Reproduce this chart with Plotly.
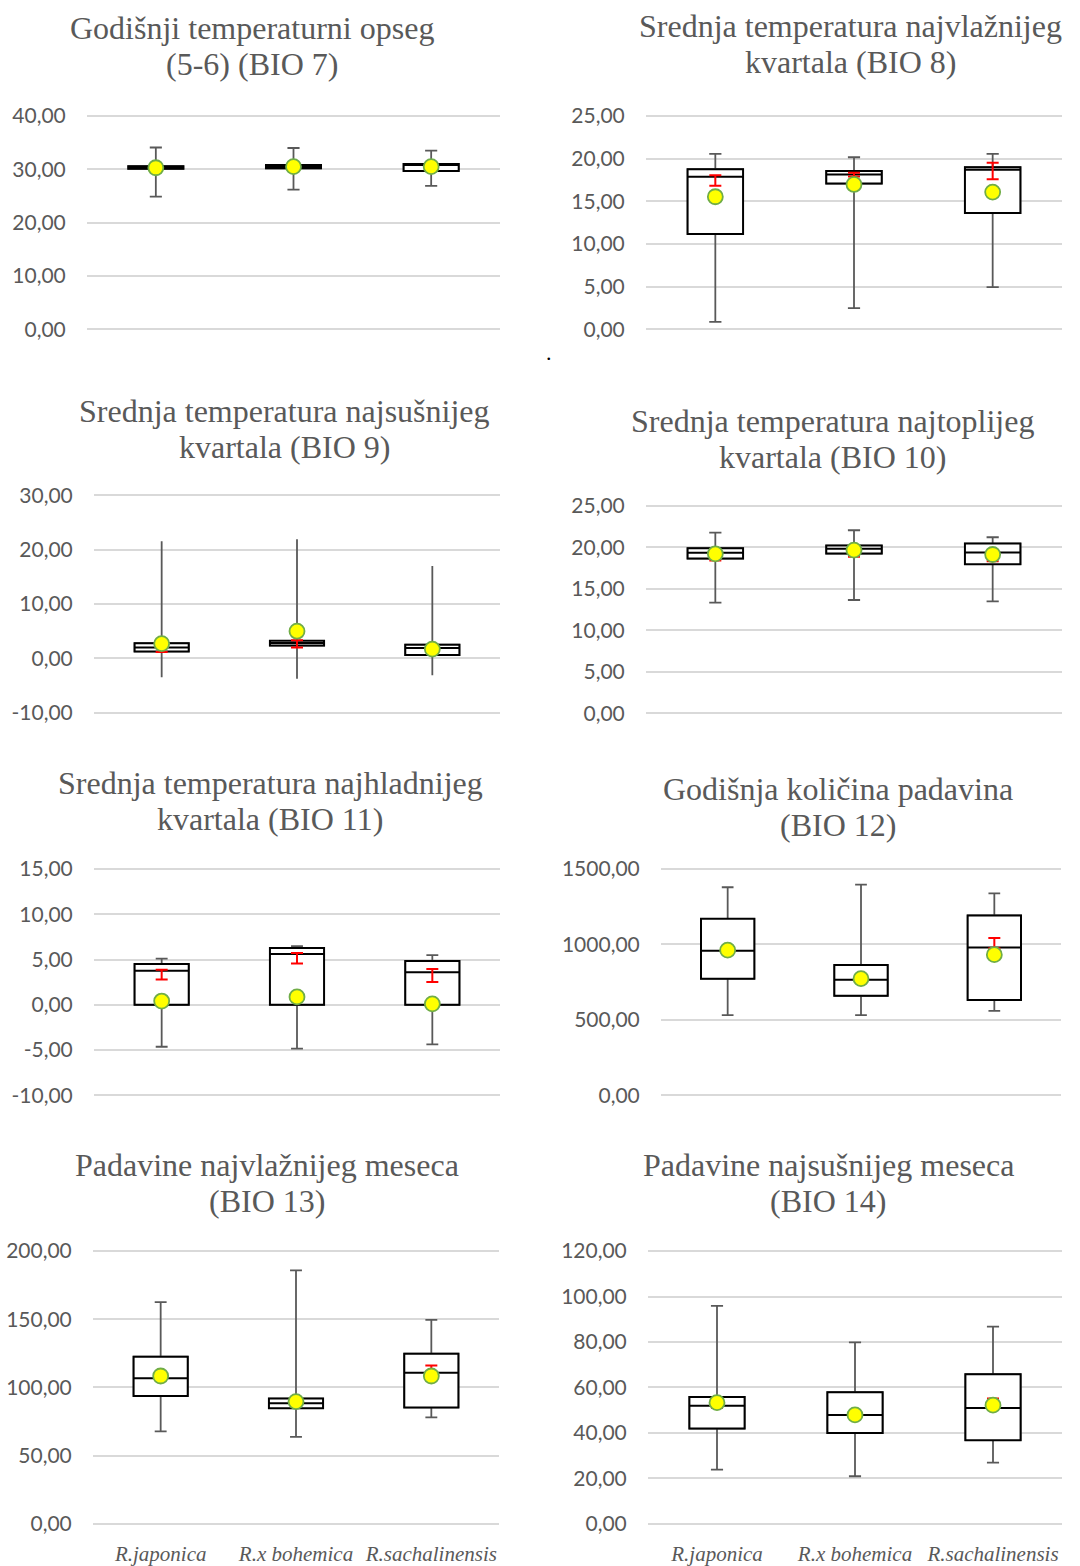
import plotly.graph_objects as go

# ---------------- DATA ----------------
categories = ["R.japonica", "R.x bohemica", "R.sachalinensis"]

# BIO 7 - Godišnji temperaturni opseg
bio7_min = [24.9, 26.2, 26.9]
bio7_q1 = [30.1, 30.2, 29.7]
bio7_med = [30.4, 30.5, 30.8]
bio7_q3 = [30.6, 30.8, 31.0]
bio7_max = [34.1, 34.0, 33.5]
bio7_mean = [30.3, 30.5, 30.5]
bio7_ci_lo = [None, None, None]
bio7_ci_hi = [None, None, None]

# BIO 8 - Srednja temperatura najvlažnijeg kvartala
bio8_min = [0.86, 2.49, 4.95]
bio8_q1 = [11.18, 17.09, 13.63]
bio8_med = [17.87, 18.15, 18.69]
bio8_q3 = [18.77, 18.57, 19.0]
bio8_max = [20.56, 20.17, 20.56]
bio8_mean = [15.54, 16.98, 16.08]
bio8_ci_lo = [16.82, 17.9, 17.6]
bio8_ci_hi = [18.07, 18.34, 19.51]

# BIO 9 - Srednja temperatura najsušnijeg kvartala
bio9_min = [-3.5, -3.76, -3.15]
bio9_q1 = [1.25, 2.35, 0.58]
bio9_med = [2.0, 2.8, 1.87]
bio9_q3 = [2.78, 3.2, 2.48]
bio9_max = [21.56, 21.9, 16.97]
bio9_mean = [2.7, 4.98, 1.68]
bio9_ci_lo = [1.13, 1.99, None]
bio9_ci_hi = [2.4, 3.33, None]

# BIO 10 - Srednja temperatura najtoplijeg kvartala
bio10_min = [13.32, 13.64, 13.48]
bio10_q1 = [18.64, 19.24, 17.96]
bio10_med = [19.32, 19.8, 19.36]
bio10_q3 = [19.88, 20.2, 20.44]
bio10_max = [21.76, 22.04, 21.2]
bio10_mean = [19.2, 19.64, 19.12]
bio10_ci_lo = [18.4, 18.84, 18.32]
bio10_ci_hi = [19.6, 20.0, 19.6]

# BIO 11 - Srednja temperatura najhladnijeg kvartala
bio11_min = [-4.64, -4.86, -4.38]
bio11_q1 = [0.0, 0.0, 0.0]
bio11_med = [3.77, 5.6, 3.58]
bio11_q3 = [4.5, 6.26, 4.83]
bio11_max = [5.09, 6.48, 5.49]
bio11_mean = [0.41, 0.87, 0.1]
bio11_ci_lo = [2.78, 4.57, 2.52]
bio11_ci_hi = [3.88, 5.71, 3.95]

# BIO 12 - Godišnja količina padavina
bio12_min = [531, 531, 559]
bio12_q1 = [773, 659, 632]
bio12_med = [958, 766, 980]
bio12_q3 = [1170, 863, 1192]
bio12_max = [1379, 1396, 1339]
bio12_mean = [962, 773, 932]
bio12_ci_lo = [None, None, 975]
bio12_ci_hi = [None, None, 1042]

# BIO 13 - Padavine najvlažnijeg meseca
bio13_min = [67.7, 63.8, 78.0]
bio13_q1 = [93.8, 84.8, 85.3]
bio13_med = [106.7, 88.4, 110.8]
bio13_q3 = [122.5, 91.8, 124.7]
bio13_max = [162.5, 185.9, 149.6]
bio13_mean = [108.4, 89.6, 108.4]
bio13_ci_lo = [None, None, 108.0]
bio13_ci_hi = [None, None, 116.0]

# BIO 14 - Padavine najsušnijeg meseca
bio14_min = [23.8, 20.9, 26.9]
bio14_q1 = [41.9, 39.9, 36.8]
bio14_med = [51.9, 47.9, 50.9]
bio14_q3 = [55.8, 57.9, 65.8]
bio14_max = [95.9, 79.8, 86.8]
bio14_mean = [53.3, 47.9, 52.2]
bio14_ci_lo = [51.0, None, 50.8]
bio14_ci_hi = [54.0, None, 55.1]

titles = [
    ("Godišnji temperaturni opseg", "(5-6) (BIO 7)"),
    ("Srednja temperatura najvlažnijeg", "kvartala (BIO 8)"),
    ("Srednja temperatura najsušnijeg", "kvartala (BIO 9)"),
    ("Srednja temperatura najtoplijeg", "kvartala (BIO 10)"),
    ("Srednja temperatura najhladnijeg", "kvartala (BIO 11)"),
    ("Godišnja količina padavina", "(BIO 12)"),
    ("Padavine najvlažnijeg meseca", "(BIO 13)"),
    ("Padavine najsušnijeg meseca", "(BIO 14)"),
]

# axis tick ranges (low, high, step)
axis_ticks = [(0, 40, 10), (0, 25, 5), (-10, 30, 10), (0, 25, 5),
              (-10, 15, 5), (0, 1500, 500), (0, 200, 50), (0, 120, 20)]

series = [
    (bio7_min, bio7_q1, bio7_med, bio7_q3, bio7_max, bio7_mean, bio7_ci_lo, bio7_ci_hi),
    (bio8_min, bio8_q1, bio8_med, bio8_q3, bio8_max, bio8_mean, bio8_ci_lo, bio8_ci_hi),
    (bio9_min, bio9_q1, bio9_med, bio9_q3, bio9_max, bio9_mean, bio9_ci_lo, bio9_ci_hi),
    (bio10_min, bio10_q1, bio10_med, bio10_q3, bio10_max, bio10_mean, bio10_ci_lo, bio10_ci_hi),
    (bio11_min, bio11_q1, bio11_med, bio11_q3, bio11_max, bio11_mean, bio11_ci_lo, bio11_ci_hi),
    (bio12_min, bio12_q1, bio12_med, bio12_q3, bio12_max, bio12_mean, bio12_ci_lo, bio12_ci_hi),
    (bio13_min, bio13_q1, bio13_med, bio13_q3, bio13_max, bio13_mean, bio13_ci_lo, bio13_ci_hi),
    (bio14_min, bio14_q1, bio14_med, bio14_q3, bio14_max, bio14_mean, bio14_ci_lo, bio14_ci_hi),
]

# ---------------- LAYOUT (pixel geometry) ----------------
W, H = 1080, 1566
# vertical correction observed between requested and photographed positions
V_OFF, V_SCALE = 7.3, 0.99


def vy(p):
    return (p - V_OFF) / V_SCALE


# plot x extent (px), y px of high tick, y px of low tick, title centre x, title line-1 y, cap width
geom = [
    ((87, 500), 116.7, 330.7, 252, 28, 0.22),
    ((646, 1062), 116.7, 330.7, 850, 26, 0.22),
    ((94, 500), 497.3, 715.3, 284, 413, 0.0),
    ((646, 1062), 507.7, 716.0, 832, 423, 0.22),
    ((94, 500), 872.3, 1099.3, 270, 786, 0.22),
    ((661, 1061), 872.3, 1099.3, 838, 792, 0.22),
    ((93, 499), 1255.7, 1529.3, 267, 1169, 0.22),
    ((648, 1062), 1255.7, 1529.3, 828, 1169, 0.22),
]
TITLE_GAP = 36

GRAY = "#595959"
TXT = "#595959"


def fmt(v):
    return f"{v:.2f}".replace(".", ",")


fig = go.Figure()
layout_axes = {}
annotations = []

for i in range(8):
    mn, q1, med, q3, mx, mean, cilo, cihi = series[i]
    lo, hi, step = axis_ticks[i]
    (x0, x1), ytop, ybot, tx, ty, ww = geom[i]
    ytop, ybot = vy(ytop), vy(ybot)
    n = i + 1
    xa = "x" if n == 1 else f"x{n}"
    ya = "y" if n == 1 else f"y{n}"

    # whiskers (gray)
    fig.add_trace(go.Box(
        x=categories, q1=q1, median=med, q3=q3, lowerfence=mn, upperfence=mx,
        xaxis=xa, yaxis=ya, line=dict(color=GRAY, width=1.8), fillcolor="white",
        width=0.4, whiskerwidth=ww, boxpoints=False, hoverinfo="skip", showlegend=False))
    # box body (black)
    fig.add_trace(go.Box(
        x=categories, q1=q1, median=med, q3=q3, lowerfence=q1, upperfence=q3,
        xaxis=xa, yaxis=ya, line=dict(color="black", width=2.0), fillcolor="white",
        width=0.4, whiskerwidth=0, boxpoints=False, hoverinfo="skip", showlegend=False))
    # red interval bars
    cx = [c for c, a in zip(categories, cilo) if a is not None]
    cl = [a for a in cilo if a is not None]
    ch = [b for a, b in zip(cilo, cihi) if a is not None]
    if cx:
        fig.add_trace(go.Scatter(
            x=cx, y=cl, mode="markers", xaxis=xa, yaxis=ya,
            marker=dict(size=1, opacity=0),
            error_y=dict(type="data", symmetric=False,
                         array=[b - a for a, b in zip(cl, ch)],
                         arrayminus=[0] * len(cl), color="#FF0000",
                         thickness=2, width=6),
            hoverinfo="skip", showlegend=False))
    # means
    fig.add_trace(go.Scatter(
        x=categories, y=mean, mode="markers", xaxis=xa, yaxis=ya,
        marker=dict(size=15, color="#FFFF00", line=dict(color="#70AD47", width=1.8)),
        hoverinfo="skip", showlegend=False))

    span = hi - lo
    pad = 0.03 * span
    scale = (ybot - ytop) / span
    dom_top = ytop - pad * scale
    dom_bot = ybot + pad * scale
    bottom_row = i >= 6
    tickvals = list(range(lo, hi + step, step))
    layout_axes["xaxis" if n == 1 else f"xaxis{n}"] = dict(
        domain=[x0 / W, x1 / W], anchor=ya, type="category",
        categoryorder="array", categoryarray=categories,
        range=[-0.5, 2.5], showgrid=False, zeroline=False, showline=False,
        showticklabels=bottom_row, ticks="outside" if bottom_row else "",
        ticklen=3, tickcolor="rgba(0,0,0,0)",
        tickfont=dict(family="Liberation Serif", size=21, color=TXT, style="italic"),
        fixedrange=True)
    layout_axes["yaxis" if n == 1 else f"yaxis{n}"] = dict(
        domain=[1 - dom_bot / H, 1 - dom_top / H], anchor=xa,
        range=[lo - pad, hi + pad], tickmode="array", tickvals=tickvals,
        ticktext=[fmt(v) for v in tickvals],
        showgrid=True, gridcolor="#D9D9D9", gridwidth=1.5,
        zeroline=False, showline=False, ticks="outside", ticklen=16,
        tickcolor="rgba(0,0,0,0)",
        tickfont=dict(family="Lato", size=21, color=TXT), fixedrange=True)

    for k, line in enumerate(titles[i]):
        annotations.append(dict(
            text=line, x=tx / W, y=1 - vy(ty + k * TITLE_GAP) / H,
            xref="paper", yref="paper",
            xanchor="center", yanchor="middle", showarrow=False,
            font=dict(family="Liberation Serif", size=32, color=TXT)))

# stray dot present in the original figure
annotations.append(dict(text=".", x=549 / W, y=1 - vy(354) / H, xref="paper", yref="paper",
                        xanchor="center", yanchor="middle", showarrow=False,
                        font=dict(family="Liberation Serif", size=22, color="black")))

fig.update_layout(
    width=W, height=H, margin=dict(l=0, r=0, t=0, b=0),
    paper_bgcolor="white", plot_bgcolor="white",
    boxmode="overlay", annotations=annotations,
    showlegend=False, **layout_axes)

fig.write_html("out.html", config={"displayModeBar": False},
               post_script="document.body.style.margin='0';document.body.style.overflow='hidden';")
